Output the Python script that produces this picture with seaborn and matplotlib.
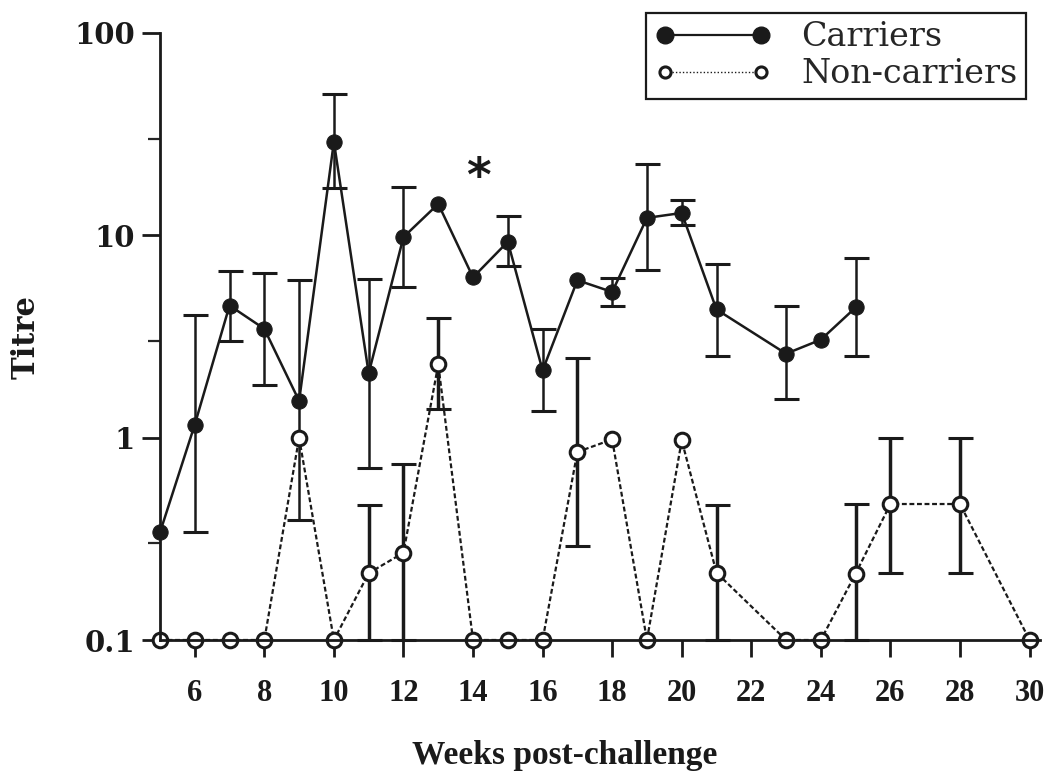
import numpy as np
import pandas as pd
import matplotlib
matplotlib.use("Agg")
import matplotlib.pyplot as plt
import seaborn as sns
from matplotlib.ticker import FixedLocator, NullFormatter, FixedFormatter
from matplotlib.lines import Line2D

nan = np.nan

# ---------------- data ----------------
carrier_weeks = [5, 6, 7, 8, 9, 10, 11, 12, 13, 14, 15, 16, 17, 18, 19, 20, 21, 23, 24, 25]
carrier_titre = [0.34, 1.16, 4.5, 3.45, 1.52, 29.0, 2.08, 9.8, 14.3, 6.2, 9.3, 2.15, 6.0,
                 5.25, 12.2, 12.9, 4.3, 2.6, 3.05, 4.4]
carrier_lo = [nan, 0.34, 3.0, 1.83, 0.39, 17.2, 0.71, 5.55, nan, nan, 7.05, 1.36, nan,
              4.45, 6.75, 11.3, 2.54, 1.56, nan, 2.53]
carrier_hi = [nan, 4.05, 6.7, 6.5, 6.0, 50.0, 6.07, 17.4, nan, nan, 12.4, 3.46, nan,
              6.18, 22.5, 14.9, 7.2, 4.48, nan, 7.7]

noncarrier_weeks = [5, 6, 7, 8, 9, 10, 11, 12, 13, 14, 15, 16, 17, 18, 19, 20, 21, 23, 24,
                    25, 26, 28, 30]
noncarrier_titre = [0.1, 0.1, 0.1, 0.1, 1.0, 0.1, 0.214, 0.27, 2.3, 0.1, 0.1, 0.1, 0.85,
                    0.98, 0.1, 0.97, 0.215, 0.1, 0.1, 0.213, 0.47, 0.47, 0.1]
noncarrier_lo = [nan, nan, nan, nan, nan, nan, 0.1, 0.1, 1.38, nan, nan, nan, 0.29,
                 nan, nan, nan, 0.1, nan, nan, 0.1, 0.215, 0.214, nan]
noncarrier_hi = [nan, nan, nan, nan, nan, nan, 0.465, 0.74, 3.9, nan, nan, nan, 2.48,
                 nan, nan, nan, 0.465, nan, nan, 0.47, 1.0, 1.0, nan]

x_ticks = list(range(6, 31, 2))
y_major = [0.1, 1, 10, 100]
y_major_labels = ["0.1", "1", "10", "100"]
y_minor = [0.3, 3, 30]

star_week = 14.15
star_titre = 19.0

series_names = ["Carriers", "Non-carriers"]

# ---------------- plot ----------------
sns.set_style("ticks")
plt.rcParams['font.family'] = ['DejaVu Serif']

INK = "#1a1a1a"
fig = plt.figure(figsize=(10.47, 7.71), dpi=100)
ax = fig.add_axes([0.1528, 0.1699, 0.8405, 0.7873])

df_c = pd.DataFrame({"week": carrier_weeks, "titre": carrier_titre,
                     "lo": carrier_lo, "hi": carrier_hi})
df_n = pd.DataFrame({"week": noncarrier_weeks, "titre": noncarrier_titre,
                     "lo": noncarrier_lo, "hi": noncarrier_hi})

# error bars
for df, lw in ((df_c, 1.8), (df_n, 2.5)):
    d = df.dropna(subset=["lo", "hi"])
    ax.errorbar(d["week"], d["titre"],
                yerr=np.vstack([d["titre"] - d["lo"], d["hi"] - d["titre"]]),
                fmt="none", ecolor=INK, elinewidth=lw, capsize=9, capthick=2.2,
                clip_on=False, zorder=2)

sns.lineplot(data=df_n, x="week", y="titre", ax=ax, color=INK, lw=1.6,
             linestyle=(0, (2.2, 1.2)), marker="o", markersize=10.5,
             markerfacecolor="white", markeredgecolor=INK, markeredgewidth=2.2,
             clip_on=False, legend=False, zorder=3)
sns.lineplot(data=df_c, x="week", y="titre", ax=ax, color=INK, lw=1.8,
             marker="o", markersize=11, markerfacecolor=INK,
             markeredgecolor=INK, clip_on=False, legend=False, zorder=4)

ax.text(star_week, star_titre, "*", fontsize=34, ha="center", va="center",
        fontfamily="DejaVu Sans", fontweight="bold", color=INK)

ax.set_yscale("log")
ax.set_ylim(0.1, 100)
ax.set_xlim(5, 30.3)

ax.yaxis.set_major_locator(FixedLocator(y_major))
ax.yaxis.set_major_formatter(FixedFormatter(y_major_labels))
ax.yaxis.set_minor_locator(FixedLocator(y_minor))
ax.yaxis.set_minor_formatter(NullFormatter())
ax.xaxis.set_major_locator(FixedLocator(x_ticks))
ax.xaxis.set_minor_locator(FixedLocator([]))

ax.tick_params(axis="y", which="major", length=13, width=2, direction="out", pad=5,
               labelsize=21, colors=INK)
ax.tick_params(axis="y", which="minor", length=9, width=1.6, direction="out")
ax.tick_params(axis="x", which="major", length=12, width=2, direction="out", pad=16,
               labelsize=22, colors=INK)
for lab in ax.get_yticklabels():
    lab.set_fontweight("bold")
for lab in ax.get_xticklabels():
    lab.set_fontfamily("Liberation Serif")
    lab.set_fontweight("bold")

for s in ("top", "right"):
    ax.spines[s].set_visible(False)
for s in ("left", "bottom"):
    ax.spines[s].set_linewidth(2)
    ax.spines[s].set_color(INK)
    ax.spines[s].set_zorder(5)

ax.set_ylabel("Titre", fontsize=22, fontweight="bold", color=INK)
ax.yaxis.set_label_coords(-0.134, 0.5)
ax.set_xlabel("Weeks post-challenge", fontsize=24, fontfamily="Liberation Serif",
              fontweight="bold", color=INK)
ax.xaxis.set_label_coords(0.46, -0.165)

handles = [
    Line2D([0], [0], color=INK, lw=1.6, marker="o", markersize=12,
           markerfacecolor=INK, markeredgecolor=INK),
    Line2D([0], [0], color=INK, lw=1.0, linestyle=(0, (1, 1.5)), marker="o",
           markersize=8, markerfacecolor="white", markeredgecolor=INK,
           markeredgewidth=2.2),
]
leg = fig.legend(handles, series_names, loc="upper right",
                 bbox_to_anchor=(1026 / 1047, 758 / 771), numpoints=2,
                 handlelength=3.5, handletextpad=0.9, borderpad=0.25,
                 borderaxespad=0.0, labelspacing=0.15, frameon=True,
                 fancybox=False, framealpha=1, edgecolor=INK,
                 prop={"family": "DejaVu Serif", "size": 24})
leg.get_frame().set_linewidth(1.6)

fig.savefig("out.png", dpi=100)
